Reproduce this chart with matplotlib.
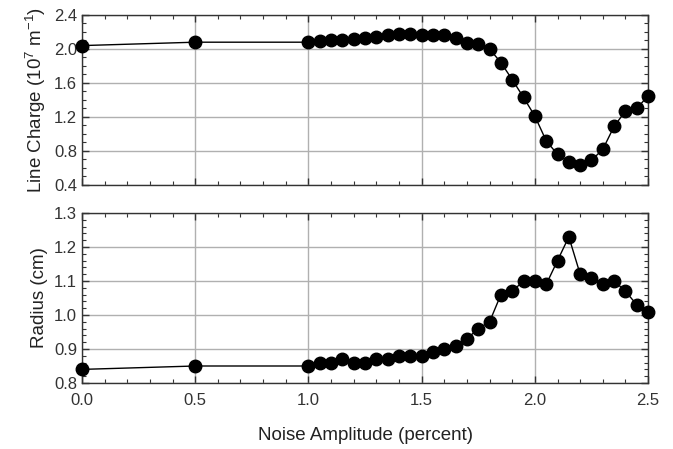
import numpy as np
import matplotlib.pyplot as plt
from matplotlib.ticker import MultipleLocator

plt.rcParams['font.family'] = ['Liberation Sans', 'DejaVu Sans']
plt.rcParams['mathtext.fontset'] = 'custom'
plt.rcParams['mathtext.rm'] = 'Liberation Sans'
plt.rcParams['mathtext.it'] = 'Liberation Sans:italic'
plt.rcParams['mathtext.default'] = 'regular'

# noise amplitude (percent)
amplitude = [0.0, 0.5, 1.0, 1.05, 1.1, 1.15, 1.2, 1.25, 1.3, 1.35, 1.4, 1.45,
             1.5, 1.55, 1.6, 1.65, 1.7, 1.75, 1.8, 1.85, 1.9, 1.95, 2.0,
             2.05, 2.1, 2.15, 2.2, 2.25, 2.3, 2.35, 2.4, 2.45, 2.5]

# line charge in 10^7 m^-1
line_charge = [2.04, 2.08, 2.08, 2.09, 2.10, 2.11, 2.12, 2.13, 2.14, 2.16, 2.18, 2.18,
               2.16, 2.17, 2.16, 2.13, 2.07, 2.06, 2.00, 1.84, 1.64, 1.43, 1.21,
               0.92, 0.76, 0.67, 0.63, 0.69, 0.82, 1.09, 1.27, 1.30, 1.45]

# beam radius in cm
radius = [0.84, 0.85, 0.85, 0.86, 0.86, 0.87, 0.86, 0.86, 0.87, 0.87, 0.88, 0.88,
          0.88, 0.89, 0.90, 0.91, 0.93, 0.96, 0.98, 1.06, 1.07, 1.10, 1.10,
          1.09, 1.16, 1.23, 1.12, 1.11, 1.09, 1.10, 1.07, 1.03, 1.01]

fig = plt.figure(figsize=(6.73, 4.49), dpi=100)
ax1 = fig.add_axes([0.1218, 0.588, 0.8412, 0.3786])
ax2 = fig.add_axes([0.1218, 0.147, 0.8412, 0.3786])


def style(ax, ymin, ymax, ymaj, ymin_step):
    ax.set_xlim(0, 2.5)
    ax.set_ylim(ymin, ymax)
    ax.xaxis.set_major_locator(MultipleLocator(0.5))
    ax.xaxis.set_minor_locator(MultipleLocator(0.1))
    ax.yaxis.set_major_locator(MultipleLocator(ymaj))
    ax.yaxis.set_minor_locator(MultipleLocator(ymin_step))
    ax.grid(True, which='major', color='#b0b0b0', linewidth=1.0)
    ax.set_axisbelow(True)
    ax.tick_params(which='both', direction='in', top=True, right=True,
                   labelsize=12, colors='#333333', labelcolor='#333333')
    ax.tick_params(which='major', length=5, width=1)
    ax.tick_params(which='minor', length=3, width=0.8)
    for s in ax.spines.values():
        s.set_color('#333333')
        s.set_linewidth(1.0)


ax1.plot(amplitude, line_charge, color='black', linewidth=1.0,
         marker='o', markersize=9, clip_on=False, zorder=3)
style(ax1, 0.4, 2.4, 0.4, 0.1)
ax1.set_xticklabels([])
ax1.set_ylabel('Line Charge (10$^7$ m$^{-1}$)', fontsize=13.5, color='#222222')

ax2.plot(amplitude, radius, color='black', linewidth=1.0,
         marker='o', markersize=9, clip_on=False, zorder=3)
style(ax2, 0.8, 1.3, 0.1, 0.02)
ax2.xaxis.set_major_formatter(plt.FormatStrFormatter('%.1f'))
ax2.tick_params(axis='x', pad=7)
ax2.set_ylabel('Radius (cm)', fontsize=13.5, color='#222222')
ax2.set_xlabel('Noise Amplitude (percent)', fontsize=13.5, color='#222222', labelpad=14)

fig.align_ylabels([ax1, ax2])
fig.savefig('out.png', dpi=100)
